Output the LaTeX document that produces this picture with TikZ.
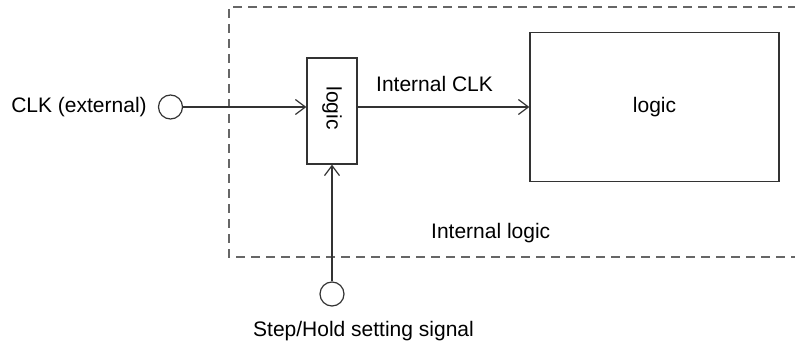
\documentclass[tikz,border=0pt]{standalone}
\usepackage{fontspec}
\setmainfont{Liberation Sans}
\usepackage{tikz}
\usetikzlibrary{arrows.meta}
\usetikzlibrary{positioning}
\tikzset{
    blk/.style = {draw=black!80,line width=1.2pt,inner sep=0},
    port/.style = {draw=black!80,line width=1.2pt,circle,minimum size=24pt,inner sep=0},
    sig/.style = {draw=black!80,line width=1.2pt,-{Straight Barb[length=10pt,width=15pt]}},
    border/.style = {dash pattern=on 9pt off 6pt,line width=1.3pt,draw=black!60},
    lbl/.style = {inner sep=0,anchor=base west}
}
\begin{document}
\begin{tikzpicture}[x=1pt,y=-1pt,font=\fontsize{21}{25}\selectfont]
    \useasboundingbox (0,0) rectangle (795,345);
    % Internal logic border
    \draw[border] (797,7) -- (229,7) -- (229,257) -- (797,257);
    % Blocks
    \node[blk,minimum width=50pt,minimum height=106pt] (gate) at (332,111) {};
    \node[rotate=-90] (gatetxt) at ([yshift=3pt]gate.center) {logic};
    \node[blk,minimum width=249pt,minimum height=149pt] (core) at (654.5,107) {logic};
    % Ports
    \node[port] (clk) at (170.5,107) {};
    \node[port] (step) at (332,294) {};
    % Labels
    \node[inner sep=0,left=11pt of clk] (clklbl) {CLK (external)};
    \node[lbl] (intclk) at (376,92) {Internal CLK};
    \node[lbl] (intlogic) at (431,238) {Internal logic};
    \node[lbl] (steplbl) at (253,336) {Step/Hold setting signal};
    % Signals
    \draw[sig] (clk) -- (clk -| gate.west);
    \draw[sig] (gate.east |- core) -- (core.west);
    \draw[sig] (step) -- (gate.south);
\end{tikzpicture}
\end{document}
